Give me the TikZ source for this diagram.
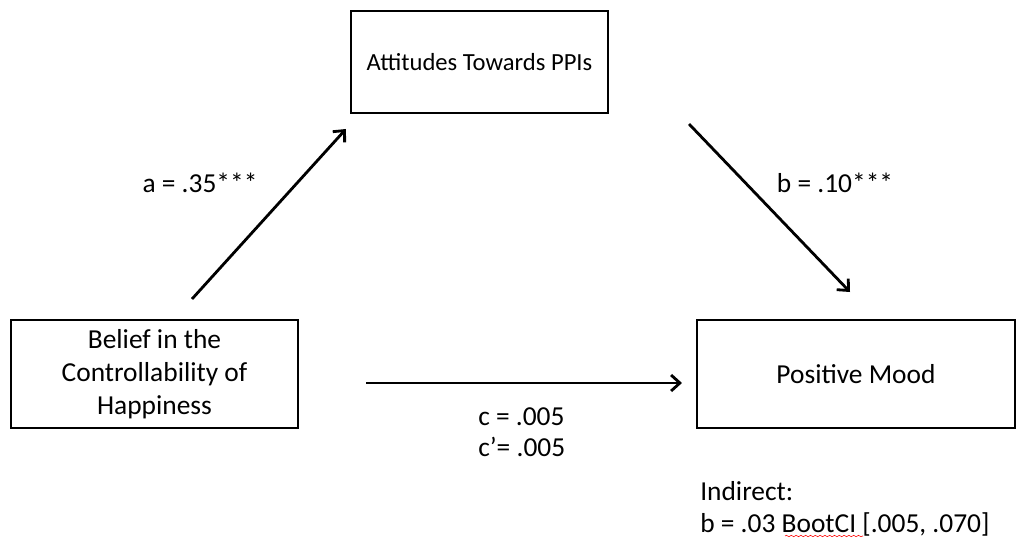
\documentclass[tikz,border=0pt]{standalone}
\usepackage{fontspec}
\setmainfont{Carlito}
\usetikzlibrary{arrows.meta,calc,decorations.pathmorphing}

\begin{document}
\begin{tikzpicture}[x=0.025cm,y=-0.025cm,
		varbox/.style={draw,line width=1.4pt,inner sep=0pt,align=center},
		path/.style={line width=2pt,-{Straight Barb[length=2.2mm,width=4mm,line width=2pt]}},
		coef/.style={inner sep=0pt,align=left},
		font=\fontsize{19.5}{23.5}\selectfont]
	\useasboundingbox (0,0) rectangle (1025,539); % Fixes the margins...

		\node[varbox,minimum width=6.425cm,minimum height=2.55cm,font=\fontsize{17.5}{21}\selectfont] (Attitudes) at (479.5,62) {Attitudes Towards PPIs};
		\node[varbox,minimum width=7.175cm,minimum height=2.7cm] (Belief) at (154.5,374) {Belief in the\\Controllability of\\Happiness};
		\node[varbox,minimum width=7.95cm,minimum height=2.7cm] (Mood) at (856,374) {Positive Mood};

		\draw[path] ($(Belief.north)+(37.5,-20)$) -- ($(Attitudes.south west)+(-4,15)$);% a path
		\draw[path] ($(Attitudes.south east)+(80,10)$) -- ($(Mood.north)+(-6,-27)$);% b path
		\draw[path] ($(Belief.east)+(67,9)$) -- ($(Mood.west)+(-14,9)$);% c path

		\node[coef] (aCoef) at (200,183) {a = .35***};
		\node[coef] (bCoef) at (835,183) {b = .10***};
		\node[coef,anchor=west,font=\fontsize{19.5}{22}\selectfont] (cCoef) at (478,432.5) {c = .005\\c’= .005};
		\node[coef,anchor=west,font=\fontsize{19.5}{22.8}\selectfont] (Indirect) at (700,509) {Indirect:\\b = .03 BootCI [.005, .070]};

		\draw[red,line width=0.4pt,decorate,decoration={snake,amplitude=0.5pt,segment length=1.2mm}] (785,536) -- (863,536);
\end{tikzpicture}
\end{document}
